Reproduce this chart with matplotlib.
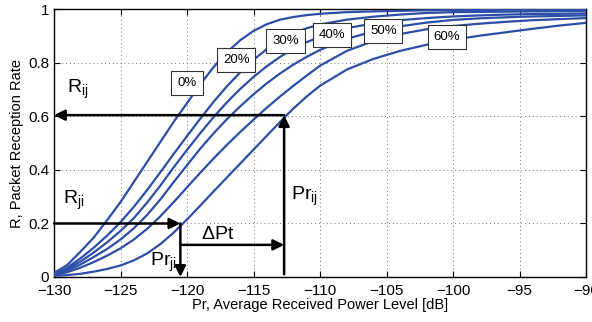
import matplotlib.pyplot as plt

plt.rcParams['font.family'] = ['Liberation Sans', 'DejaVu Sans']
plt.rcParams['mathtext.fontset'] = 'custom'
plt.rcParams['mathtext.rm'] = 'Liberation Sans'
plt.rcParams['mathtext.it'] = 'Liberation Sans'

# received power grid (dB)
x = [-130, -129, -128, -127, -126, -125, -124, -123, -122, -121, -120,
     -119, -118, -117, -116, -115, -114, -113, -112, -111, -110,
     -108, -106, -104, -102, -100, -98, -96, -94, -92, -90]

# packet reception rate curves
prr_0 = [0.015, 0.045, 0.095, 0.148, 0.213, 0.28, 0.355, 0.43, 0.505, 0.58, 0.65,
         0.72, 0.785, 0.84, 0.885, 0.92, 0.945, 0.962, 0.972, 0.979, 0.984,
         0.99, 0.993, 0.995, 0.997, 0.998, 0.998, 0.999, 0.999, 1.0, 1.0]
prr_20 = [0.01, 0.035, 0.07, 0.11, 0.155, 0.205, 0.262, 0.325, 0.392, 0.46, 0.527,
          0.592, 0.655, 0.713, 0.765, 0.812, 0.852, 0.885, 0.91, 0.93, 0.944,
          0.962, 0.973, 0.981, 0.987, 0.99, 0.991, 0.992, 0.993, 0.994, 0.994]
prr_30 = [0.01, 0.03, 0.058, 0.092, 0.13, 0.172, 0.22, 0.278, 0.342, 0.41, 0.475,
          0.538, 0.598, 0.653, 0.703, 0.748, 0.788, 0.823, 0.853, 0.878, 0.898,
          0.93, 0.948, 0.96, 0.968, 0.974, 0.978, 0.981, 0.983, 0.984, 0.985]
prr_40 = [0.008, 0.024, 0.047, 0.075, 0.105, 0.14, 0.182, 0.232, 0.29, 0.355, 0.418,
          0.48, 0.537, 0.59, 0.638, 0.683, 0.724, 0.761, 0.794, 0.823, 0.849,
          0.89, 0.918, 0.937, 0.951, 0.961, 0.967, 0.971, 0.974, 0.976, 0.978]
prr_50 = [0.006, 0.018, 0.035, 0.056, 0.08, 0.107, 0.14, 0.18, 0.227, 0.28, 0.335,
          0.39, 0.443, 0.494, 0.542, 0.588, 0.633, 0.675, 0.715, 0.753, 0.79,
          0.845, 0.882, 0.908, 0.926, 0.938, 0.947, 0.954, 0.96, 0.964, 0.968]
prr_60 = [0.004, 0.007, 0.012, 0.02, 0.03, 0.043, 0.062, 0.088, 0.123, 0.166, 0.215,
          0.267, 0.32, 0.372, 0.424, 0.476, 0.528, 0.58, 0.63, 0.675, 0.715,
          0.775, 0.815, 0.845, 0.868, 0.887, 0.902, 0.915, 0.928, 0.94, 0.95]

curves = [prr_0, prr_20, prr_30, prr_40, prr_50, prr_60]
labels = ['0%', '20%', '30%', '40%', '50%', '60%']
# label box centres (x, y)
label_x = [-120.0, -116.3, -112.6, -109.1, -105.25, -100.45]
label_y = [0.724, 0.81, 0.883, 0.904, 0.92, 0.897]

# operating points
pr_ij, r_ij = -112.7, 0.605
pr_ji, r_ji = -120.5, 0.2
dpt_y = 0.12

fig = plt.figure(figsize=(5.92, 3.22), dpi=100)
ax = fig.add_axes([0.0912, 0.1398, 0.8988, 0.8307])

for yv in curves:
    ax.plot(x, yv, color='#2c4ea6', lw=1.6, zorder=3)

for lab, lx, ly in zip(labels, label_x, label_y):
    ax.text(lx, ly, lab, ha='center', va='center', fontsize=9.5, zorder=6,
            bbox=dict(boxstyle='square,pad=0.45', fc='white', ec='#333333', lw=0.8))

arr = dict(arrowstyle='-|>', color='black', lw=1.8, mutation_scale=16,
           shrinkA=0, shrinkB=0)
# Pr_ij up, R_ij left
ax.annotate('', xy=(pr_ij, r_ij), xytext=(pr_ij, 0.01), arrowprops=arr, zorder=5)
ax.annotate('', xy=(-130, r_ij), xytext=(pr_ij, r_ij), arrowprops=arr, zorder=5)
# R_ji right, Pr_ji down
ax.annotate('', xy=(pr_ji, r_ji), xytext=(-130, r_ji), arrowprops=arr, zorder=5)
ax.annotate('', xy=(pr_ji, 0.0), xytext=(pr_ji, r_ji), arrowprops=arr, zorder=5)
# delta Pt
ax.annotate('', xy=(pr_ij, dpt_y), xytext=(pr_ji, dpt_y), arrowprops=arr, zorder=5)

ax.text(-129.0, 0.70, r'$\mathregular{R_{ij}}$', fontsize=14, ha='left', va='center')
ax.text(-129.3, 0.285, r'$\mathregular{R_{ji}}$', fontsize=14, ha='left', va='center')
ax.text(-122.8, 0.055, r'$\mathregular{Pr_{ji}}$', fontsize=14, ha='left', va='center')
ax.text(-117.7, 0.16, r'$\mathregular{\Delta Pt}$', fontsize=14, ha='center', va='center')
ax.text(-112.2, 0.30, r'$\mathregular{Pr_{ij}}$', fontsize=14, ha='left', va='center')

ax.set_xlim(-130, -90)
ax.set_ylim(0, 1)
ax.set_xticks(range(-130, -89, 5))
ax.set_yticks([0, 0.2, 0.4, 0.6, 0.8, 1])
ax.set_xticklabels(['\u2212130', '\u2212125', '\u2212120', '\u2212115', '\u2212110',
                    '\u2212105', '\u2212100', '\u221295', '\u221290'])
ax.set_yticklabels(['0', '0.2', '0.4', '0.6', '0.8', '1'])
ax.tick_params(direction='in', top=True, right=True, labelsize=11, length=4)
ax.tick_params(axis='x', pad=5)
ax.grid(True, linestyle=(0, (1, 3)), color='#777777', lw=0.7)
for s in ax.spines.values():
    s.set_linewidth(1.0)

ax.set_xlabel('Pr, Average Received Power Level [dB]', fontsize=10.5, labelpad=0)
ax.set_ylabel('R, Packet Reception Rate', fontsize=10.5, labelpad=3)

plt.savefig('out.png', dpi=100)
